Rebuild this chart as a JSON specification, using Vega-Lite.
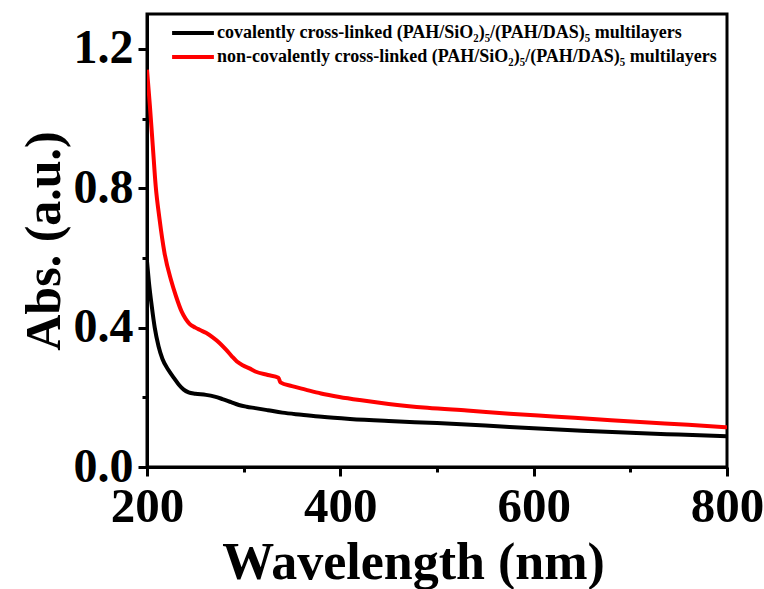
{
  "$schema": "https://vega.github.io/schema/vega-lite/v6.json",
  "width": 580,
  "height": 453,
  "autosize": {"type": "none"},
  "padding": {"left": 147, "top": 14, "right": 37, "bottom": 122},
  "background": "white",
  "config": {
    "view": {"stroke": "black", "strokeWidth": 3},
    "font": "Liberation Serif",
    "axis": {
      "domainColor": "black",
      "domainWidth": 3,
      "tickColor": "black",
      "tickWidth": 3,
      "grid": false,
      "labelFont": "Liberation Serif",
      "labelFontWeight": "bold",
      "labelColor": "black",
      "labelFontSize": 49,
      "labelFlush": false,
      "labelOverlap": false,
      "titleFont": "Liberation Serif",
      "titleFontWeight": "bold",
      "titleColor": "black",
      "titleFontSize": 52
    }
  },
  "datasets": {
    "spectra": [
      {"wl": 200, "abs": 0.59, "s": "covalently cross-linked (PAH/SiO₂)₅/(PAH/DAS)₅ multilayers"},
      {"wl": 202, "abs": 0.53, "s": "covalently cross-linked (PAH/SiO₂)₅/(PAH/DAS)₅ multilayers"},
      {"wl": 205, "abs": 0.46, "s": "covalently cross-linked (PAH/SiO₂)₅/(PAH/DAS)₅ multilayers"},
      {"wl": 208, "abs": 0.40, "s": "covalently cross-linked (PAH/SiO₂)₅/(PAH/DAS)₅ multilayers"},
      {"wl": 212, "abs": 0.346, "s": "covalently cross-linked (PAH/SiO₂)₅/(PAH/DAS)₅ multilayers"},
      {"wl": 216, "abs": 0.31, "s": "covalently cross-linked (PAH/SiO₂)₅/(PAH/DAS)₅ multilayers"},
      {"wl": 222, "abs": 0.279, "s": "covalently cross-linked (PAH/SiO₂)₅/(PAH/DAS)₅ multilayers"},
      {"wl": 228, "abs": 0.255, "s": "covalently cross-linked (PAH/SiO₂)₅/(PAH/DAS)₅ multilayers"},
      {"wl": 233, "abs": 0.236, "s": "covalently cross-linked (PAH/SiO₂)₅/(PAH/DAS)₅ multilayers"},
      {"wl": 238, "abs": 0.222, "s": "covalently cross-linked (PAH/SiO₂)₅/(PAH/DAS)₅ multilayers"},
      {"wl": 243, "abs": 0.214, "s": "covalently cross-linked (PAH/SiO₂)₅/(PAH/DAS)₅ multilayers"},
      {"wl": 250, "abs": 0.210, "s": "covalently cross-linked (PAH/SiO₂)₅/(PAH/DAS)₅ multilayers"},
      {"wl": 261, "abs": 0.207, "s": "covalently cross-linked (PAH/SiO₂)₅/(PAH/DAS)₅ multilayers"},
      {"wl": 270, "abs": 0.202, "s": "covalently cross-linked (PAH/SiO₂)₅/(PAH/DAS)₅ multilayers"},
      {"wl": 278, "abs": 0.195, "s": "covalently cross-linked (PAH/SiO₂)₅/(PAH/DAS)₅ multilayers"},
      {"wl": 287, "abs": 0.186, "s": "covalently cross-linked (PAH/SiO₂)₅/(PAH/DAS)₅ multilayers"},
      {"wl": 295, "abs": 0.178, "s": "covalently cross-linked (PAH/SiO₂)₅/(PAH/DAS)₅ multilayers"},
      {"wl": 303, "abs": 0.173, "s": "covalently cross-linked (PAH/SiO₂)₅/(PAH/DAS)₅ multilayers"},
      {"wl": 312, "abs": 0.169, "s": "covalently cross-linked (PAH/SiO₂)₅/(PAH/DAS)₅ multilayers"},
      {"wl": 325, "abs": 0.163, "s": "covalently cross-linked (PAH/SiO₂)₅/(PAH/DAS)₅ multilayers"},
      {"wl": 340, "abs": 0.156, "s": "covalently cross-linked (PAH/SiO₂)₅/(PAH/DAS)₅ multilayers"},
      {"wl": 360, "abs": 0.150, "s": "covalently cross-linked (PAH/SiO₂)₅/(PAH/DAS)₅ multilayers"},
      {"wl": 381, "abs": 0.144, "s": "covalently cross-linked (PAH/SiO₂)₅/(PAH/DAS)₅ multilayers"},
      {"wl": 410, "abs": 0.138, "s": "covalently cross-linked (PAH/SiO₂)₅/(PAH/DAS)₅ multilayers"},
      {"wl": 450, "abs": 0.132, "s": "covalently cross-linked (PAH/SiO₂)₅/(PAH/DAS)₅ multilayers"},
      {"wl": 500, "abs": 0.126, "s": "covalently cross-linked (PAH/SiO₂)₅/(PAH/DAS)₅ multilayers"},
      {"wl": 550, "abs": 0.119, "s": "covalently cross-linked (PAH/SiO₂)₅/(PAH/DAS)₅ multilayers"},
      {"wl": 600, "abs": 0.111, "s": "covalently cross-linked (PAH/SiO₂)₅/(PAH/DAS)₅ multilayers"},
      {"wl": 650, "abs": 0.104, "s": "covalently cross-linked (PAH/SiO₂)₅/(PAH/DAS)₅ multilayers"},
      {"wl": 700, "abs": 0.098, "s": "covalently cross-linked (PAH/SiO₂)₅/(PAH/DAS)₅ multilayers"},
      {"wl": 750, "abs": 0.093, "s": "covalently cross-linked (PAH/SiO₂)₅/(PAH/DAS)₅ multilayers"},
      {"wl": 800, "abs": 0.088, "s": "covalently cross-linked (PAH/SiO₂)₅/(PAH/DAS)₅ multilayers"},
      {"wl": 200, "abs": 1.14, "s": "non-covalently cross-linked (PAH/SiO₂)₅/(PAH/DAS)₅ multilayers"},
      {"wl": 203, "abs": 1.036, "s": "non-covalently cross-linked (PAH/SiO₂)₅/(PAH/DAS)₅ multilayers"},
      {"wl": 206, "abs": 0.921, "s": "non-covalently cross-linked (PAH/SiO₂)₅/(PAH/DAS)₅ multilayers"},
      {"wl": 209, "abs": 0.806, "s": "non-covalently cross-linked (PAH/SiO₂)₅/(PAH/DAS)₅ multilayers"},
      {"wl": 213, "abs": 0.711, "s": "non-covalently cross-linked (PAH/SiO₂)₅/(PAH/DAS)₅ multilayers"},
      {"wl": 218, "abs": 0.616, "s": "non-covalently cross-linked (PAH/SiO₂)₅/(PAH/DAS)₅ multilayers"},
      {"wl": 225, "abs": 0.535, "s": "non-covalently cross-linked (PAH/SiO₂)₅/(PAH/DAS)₅ multilayers"},
      {"wl": 230, "abs": 0.49, "s": "non-covalently cross-linked (PAH/SiO₂)₅/(PAH/DAS)₅ multilayers"},
      {"wl": 236, "abs": 0.445, "s": "non-covalently cross-linked (PAH/SiO₂)₅/(PAH/DAS)₅ multilayers"},
      {"wl": 240, "abs": 0.425, "s": "non-covalently cross-linked (PAH/SiO₂)₅/(PAH/DAS)₅ multilayers"},
      {"wl": 244, "abs": 0.411, "s": "non-covalently cross-linked (PAH/SiO₂)₅/(PAH/DAS)₅ multilayers"},
      {"wl": 250, "abs": 0.400, "s": "non-covalently cross-linked (PAH/SiO₂)₅/(PAH/DAS)₅ multilayers"},
      {"wl": 255, "abs": 0.393, "s": "non-covalently cross-linked (PAH/SiO₂)₅/(PAH/DAS)₅ multilayers"},
      {"wl": 261, "abs": 0.385, "s": "non-covalently cross-linked (PAH/SiO₂)₅/(PAH/DAS)₅ multilayers"},
      {"wl": 268, "abs": 0.372, "s": "non-covalently cross-linked (PAH/SiO₂)₅/(PAH/DAS)₅ multilayers"},
      {"wl": 275, "abs": 0.356, "s": "non-covalently cross-linked (PAH/SiO₂)₅/(PAH/DAS)₅ multilayers"},
      {"wl": 282, "abs": 0.336, "s": "non-covalently cross-linked (PAH/SiO₂)₅/(PAH/DAS)₅ multilayers"},
      {"wl": 288, "abs": 0.317, "s": "non-covalently cross-linked (PAH/SiO₂)₅/(PAH/DAS)₅ multilayers"},
      {"wl": 293, "abs": 0.303, "s": "non-covalently cross-linked (PAH/SiO₂)₅/(PAH/DAS)₅ multilayers"},
      {"wl": 299, "abs": 0.292, "s": "non-covalently cross-linked (PAH/SiO₂)₅/(PAH/DAS)₅ multilayers"},
      {"wl": 306, "abs": 0.283, "s": "non-covalently cross-linked (PAH/SiO₂)₅/(PAH/DAS)₅ multilayers"},
      {"wl": 312, "abs": 0.274, "s": "non-covalently cross-linked (PAH/SiO₂)₅/(PAH/DAS)₅ multilayers"},
      {"wl": 325, "abs": 0.264, "s": "non-covalently cross-linked (PAH/SiO₂)₅/(PAH/DAS)₅ multilayers"},
      {"wl": 336, "abs": 0.256, "s": "non-covalently cross-linked (PAH/SiO₂)₅/(PAH/DAS)₅ multilayers"},
      {"wl": 338, "abs": 0.243, "s": "non-covalently cross-linked (PAH/SiO₂)₅/(PAH/DAS)₅ multilayers"},
      {"wl": 350, "abs": 0.232, "s": "non-covalently cross-linked (PAH/SiO₂)₅/(PAH/DAS)₅ multilayers"},
      {"wl": 364, "abs": 0.222, "s": "non-covalently cross-linked (PAH/SiO₂)₅/(PAH/DAS)₅ multilayers"},
      {"wl": 380, "abs": 0.211, "s": "non-covalently cross-linked (PAH/SiO₂)₅/(PAH/DAS)₅ multilayers"},
      {"wl": 399, "abs": 0.201, "s": "non-covalently cross-linked (PAH/SiO₂)₅/(PAH/DAS)₅ multilayers"},
      {"wl": 420, "abs": 0.192, "s": "non-covalently cross-linked (PAH/SiO₂)₅/(PAH/DAS)₅ multilayers"},
      {"wl": 450, "abs": 0.181, "s": "non-covalently cross-linked (PAH/SiO₂)₅/(PAH/DAS)₅ multilayers"},
      {"wl": 490, "abs": 0.170, "s": "non-covalently cross-linked (PAH/SiO₂)₅/(PAH/DAS)₅ multilayers"},
      {"wl": 531, "abs": 0.162, "s": "non-covalently cross-linked (PAH/SiO₂)₅/(PAH/DAS)₅ multilayers"},
      {"wl": 575, "abs": 0.153, "s": "non-covalently cross-linked (PAH/SiO₂)₅/(PAH/DAS)₅ multilayers"},
      {"wl": 620, "abs": 0.145, "s": "non-covalently cross-linked (PAH/SiO₂)₅/(PAH/DAS)₅ multilayers"},
      {"wl": 665, "abs": 0.137, "s": "non-covalently cross-linked (PAH/SiO₂)₅/(PAH/DAS)₅ multilayers"},
      {"wl": 710, "abs": 0.129, "s": "non-covalently cross-linked (PAH/SiO₂)₅/(PAH/DAS)₅ multilayers"},
      {"wl": 760, "abs": 0.121, "s": "non-covalently cross-linked (PAH/SiO₂)₅/(PAH/DAS)₅ multilayers"},
      {"wl": 800, "abs": 0.114, "s": "non-covalently cross-linked (PAH/SiO₂)₅/(PAH/DAS)₅ multilayers"}
    ]
  },
  "data": {"name": "spectra"},
  "mark": {"type": "line", "strokeWidth": 4, "interpolate": "monotone", "clip": true},
  "encoding": {
    "x": {
      "field": "wl",
      "type": "quantitative",
      "scale": {"domain": [200, 800], "nice": false, "zero": false},
      "axis": {
        "title": "Wavelength (nm)",
        "titleX": 266,
        "values": [200, 300, 400, 500, 600, 700, 800],
        "labelExpr": "datum.value % 200 === 0 ? datum.label : ''",
        "tickSize": {"condition": {"test": "datum.value % 200 === 0", "value": 9}, "value": 5},
        "labelPadding": 6,
        "titlePadding": 6
      }
    },
    "y": {
      "field": "abs",
      "type": "quantitative",
      "scale": {"domain": [0, 1.3], "nice": false},
      "axis": {
        "title": "Abs. (a.u.)",
        "titleFontSize": 50,
        "labelFontSize": 48,
        "values": [0, 0.2, 0.4, 0.6, 0.8, 1.0, 1.2],
        "labelExpr": "round(datum.value * 10) % 4 === 0 ? format(datum.value, '.1f') : ''",
        "tickSize": {"condition": {"test": "round(datum.value * 10) % 4 === 0", "value": 9}, "value": 5},
        "labelPadding": 5,
        "titlePadding": 4
      }
    },
    "color": {
      "field": "s",
      "type": "nominal",
      "scale": {
        "domain": ["covalently cross-linked (PAH/SiO₂)₅/(PAH/DAS)₅ multilayers", "non-covalently cross-linked (PAH/SiO₂)₅/(PAH/DAS)₅ multilayers"],
        "range": ["#000000", "#ff0000"]
      },
      "legend": {
        "title": null,
        "orient": "none",
        "legendX": 33,
        "legendY": 6,
        "symbolType": "M-1.9,0L1.9,0",
        "symbolSize": 484,
        "symbolStrokeWidth": 4,
        "labelFont": "Liberation Serif",
        "labelFontWeight": "bold",
        "labelFontSize": 18,
        "labelColor": "black",
        "labelLimit": 700,
        "labelOffset": 11,
        "rowPadding": 2
      }
    }
  }
}
